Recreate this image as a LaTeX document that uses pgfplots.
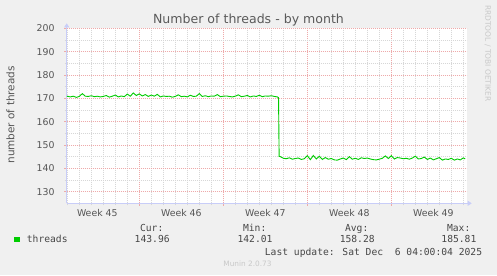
\documentclass[border=0pt]{standalone}
\usepackage{fontspec}
\setmainfont{DejaVu Sans}
\newfontfamily\monofont{DejaVu Sans Mono}
\usepackage{pgfplots}
\pgfplotsset{compat=1.18}
\usetikzlibrary{arrows.meta}
\definecolor{bgc}{RGB}{240,240,240}
\definecolor{titlec}{RGB}{90,90,90}
\definecolor{tickc}{RGB}{85,85,85}
\definecolor{legc}{RGB}{70,70,70}
\definecolor{faintc}{RGB}{200,200,200}
\definecolor{linegreen}{RGB}{0,204,0}
\definecolor{axisc}{RGB}{200,205,248}
\definecolor{majgrid}{RGB}{238,170,170}
\definecolor{mingrid}{RGB}{215,215,215}
\begin{document}
\begin{tikzpicture}[x=1bp,y=1bp]
\fill[bgc] (0,0) rectangle (497,275);
\begin{axis}[
  at={(66.7bp,71.7bp)}, anchor=south west,
  scale only axis, width=400bp, height=175bp,
  xmin=0.95, xmax=34.28, ymin=125, ymax=200,
  axis background/.style={fill=white},
  axis x line*=bottom, axis y line*=left,
  axis line style={draw=axisc, line width=0.9bp},
  x axis line style={-{Triangle[length=4bp,width=5bp]}, shorten >=-5bp},
  y axis line style={-{Triangle[length=4bp,width=5bp]}, shorten >=-5bp},
  xtick={7,14,21,28}, xticklabels={},
  minor xtick={1,2,3,4,5,6,8,9,10,11,12,13,15,16,17,18,19,20,22,23,24,25,26,27,29,30,31,32,33,34},
  extra x ticks={3.5,10.5,17.5,24.5,31.5},
  extra x tick labels={Week 45,Week 46,Week 47,Week 48,Week 49},
  extra x tick style={xmajorgrids=false, major tick length=0pt},
  ytick={130,140,150,160,170,180,190,200},
  minor ytick={135,145,155,165,175,185,195},
  xmajorgrids, xminorgrids, ymajorgrids, yminorgrids,
  major grid style={draw=majgrid, line width=0.5bp, dash pattern=on 1bp off 1bp},
  minor grid style={draw=mingrid, line width=0.5bp, dash pattern=on 1bp off 1bp},
  tick align=outside, major tick length=2.5bp, minor tick length=2bp,
  major tick style={draw=majgrid, line width=0.6bp},
  minor tick style={draw=mingrid, line width=0.6bp},
  /pgf/number format/assume math mode=true,
  ticklabel style={font=\fontsize{9.4}{10}\selectfont, text=tickc},
  yticklabel style={anchor=base east, inner sep=0pt, xshift=-9.4bp, yshift=-3.4bp},
  xticklabel style={anchor=base, inner sep=0pt, yshift=-13.5bp},
  clip=true,
]
\addplot[color=linegreen, line width=0.9bp, mark=none] table {
x y
0.97 170.8
1.00 170.9
1.25 170.6
1.50 170.9
1.75 170.4
2.00 170.8
2.25 172.0
2.50 170.9
2.75 170.8
3.00 171.1
3.25 170.7
3.50 170.9
3.75 170.6
4.00 170.8
4.25 171.2
4.50 170.5
4.75 170.9
5.00 171.4
5.25 170.6
5.50 171.0
5.75 170.7
6.00 171.8
6.25 170.9
6.50 172.3
6.75 171.2
7.00 171.9
7.25 171.0
7.50 171.6
7.75 170.8
8.00 171.4
8.25 170.9
8.50 171.7
8.75 170.6
9.00 171.0
9.25 170.8
9.50 170.9
9.75 170.5
10.00 170.8
10.25 171.5
10.50 170.7
10.75 170.9
11.00 170.6
11.25 171.3
11.50 170.8
11.75 170.9
12.00 172.0
12.25 170.8
12.50 171.1
12.75 170.7
13.00 171.0
13.25 170.9
13.50 171.6
13.75 170.7
14.00 170.9
14.25 171.0
14.50 170.8
14.75 170.6
15.00 170.9
15.25 171.5
15.50 170.7
15.75 170.9
16.00 171.2
16.25 170.6
16.50 171.0
16.75 170.8
17.00 171.3
17.25 170.7
17.50 171.0
17.75 170.9
18.00 171.1
18.25 170.8
18.50 170.6
18.60 170.3
18.65 145.1
18.75 145.0
19.00 144.3
19.25 144.1
19.50 144.5
19.75 143.9
20.00 144.2
20.25 144.4
20.50 143.8
20.75 144.1
21.00 145.4
21.25 143.7
21.50 145.5
21.75 144.0
22.00 145.2
22.25 143.8
22.50 144.6
22.75 143.9
23.00 144.2
23.25 143.6
23.50 143.5
23.75 144.0
24.00 144.4
24.25 143.7
24.50 145.0
24.75 143.9
25.00 144.3
25.25 143.8
25.50 144.5
25.75 144.2
26.00 144.4
26.25 144.0
26.50 143.7
26.75 143.6
27.00 143.9
27.25 144.3
27.50 145.3
27.75 144.2
28.00 145.4
28.25 144.0
28.50 144.6
28.75 144.4
29.00 144.1
29.25 144.3
29.50 143.9
29.75 144.4
30.00 145.2
30.25 144.0
30.50 144.2
30.75 144.8
31.00 143.8
31.25 144.4
31.50 143.6
31.75 144.1
32.00 144.6
32.25 143.5
32.50 144.0
32.75 143.8
33.00 144.3
33.25 143.5
33.50 144.0
33.75 143.6
34.00 144.5
34.15 144.0
};
\end{axis}
\node[anchor=base, inner sep=0pt, font=\fontsize{12.6}{14}\selectfont, text=titlec] at (248.5,251.4) {Number of threads - by month};
\node[rotate=90, inner sep=0pt, font=\fontsize{10.5}{12}\selectfont, text=tickc] at (10.5,160.1) {number of threads};
\node[rotate=-90, inner sep=0pt, font=\fontsize{7.5}{8}\selectfont, text=faintc] at (487.7,221.7) {RRDTOOL / TOBI OETIKER};
\fill[linegreen] (14,32.7) rectangle (19.5,38.2);
\begin{scope}[every node/.style={inner sep=0pt, font=\monofont\fontsize{9.7}{11}\selectfont, text=legc}]
\node[anchor=base west] at (26.7,32.2) {threads};
\node[anchor=base] at (151.7,43.2) {Cur:};
\node[anchor=base] at (152.2,32.2) {143.96};
\node[anchor=base] at (254.7,43.2) {Min:};
\node[anchor=base] at (255.0,32.2) {142.01};
\node[anchor=base] at (356.7,43.2) {Avg:};
\node[anchor=base] at (357.2,32.2) {158.28};
\node[anchor=base] at (458.7,43.2) {Max:};
\node[anchor=base] at (458.9,32.2) {185.81};
\node[anchor=base east] at (482.3,20) {Last update: Sat Dec\ \ 6 04:00:04 2025};
\end{scope}
\node[anchor=base, inner sep=0pt, font=\fontsize{7.4}{8}\selectfont, text=faintc] at (247.5,8.3) {Munin 2.0.73};
\pgfresetboundingbox
\useasboundingbox (0,0) rectangle (497,275);
\end{tikzpicture}
\end{document}
